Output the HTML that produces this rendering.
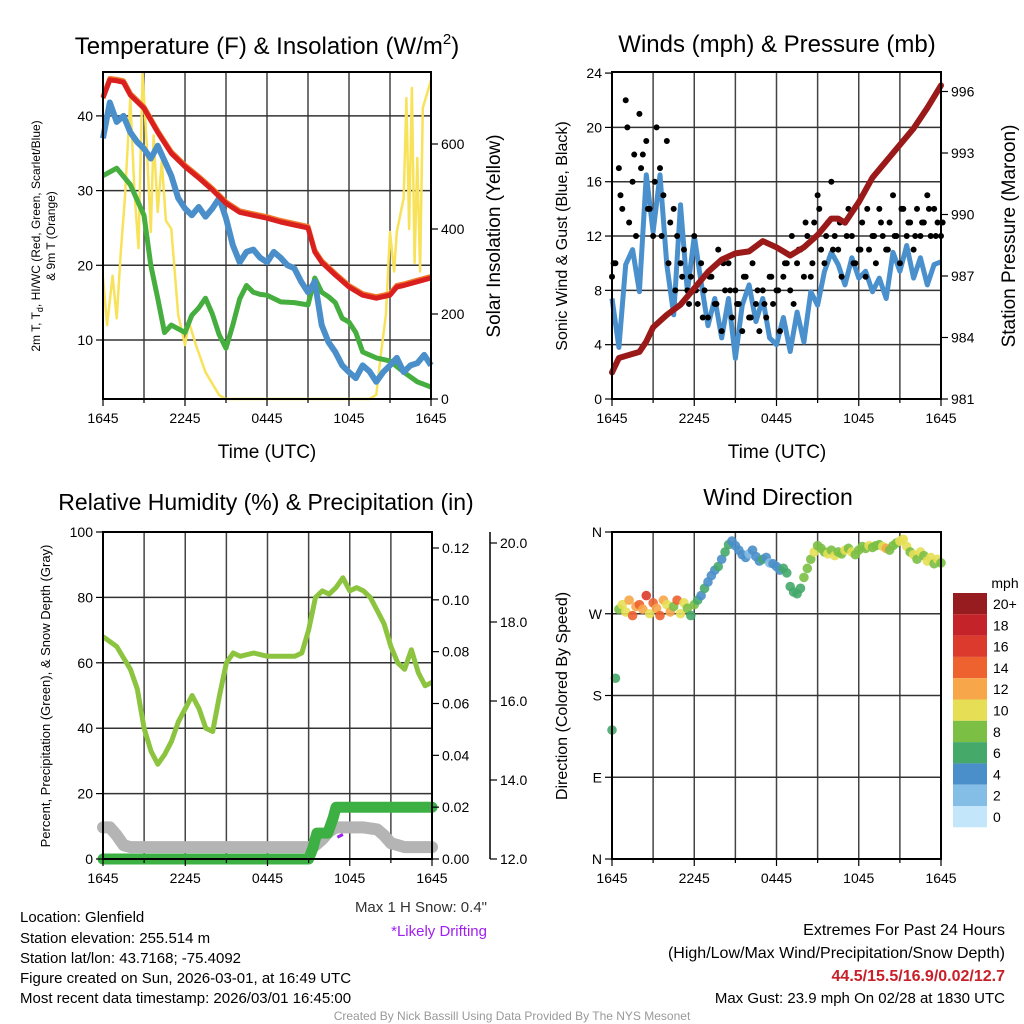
<!DOCTYPE html>
<html><head><meta charset="utf-8"><style>
html,body{margin:0;padding:0;background:#fff}
svg{display:block;font-family:"Liberation Sans",sans-serif}
</style></head><body>
<svg id="c" width="1024" height="1024" viewBox="0 0 1024 1024" xmlns="http://www.w3.org/2000/svg">
<rect width="1024" height="1024" fill="#fff"/>
<g id="g"></g>
<!-- titles -->
<text x="267" y="54" font-size="24" text-anchor="middle">Temperature (F) &amp; Insolation (W/m<tspan font-size="15" dy="-10">2</tspan><tspan dy="10">)</tspan></text>
<text x="777" y="52" font-size="24" text-anchor="middle">Winds (mph) &amp; Pressure (mb)</text>
<text x="266" y="510" font-size="23" text-anchor="middle">Relative Humidity (%) &amp; Precipitation (in)</text>
<text x="778" y="505" font-size="23" text-anchor="middle">Wind Direction</text>
<text x="267" y="458" font-size="19" text-anchor="middle">Time (UTC)</text>
<text x="777" y="458" font-size="19" text-anchor="middle">Time (UTC)</text>
<text transform="translate(40,236) rotate(-90)" font-size="12" text-anchor="middle">2m T, T<tspan font-size="9" dy="3">d</tspan><tspan dy="-3">, HI/WC (Red, Green, Scarlet/Blue)</tspan></text>
<text transform="translate(55,236) rotate(-90)" font-size="12" text-anchor="middle">&amp; 9m T (Orange)</text>
<text transform="translate(500,236) rotate(-90)" font-size="19" text-anchor="middle">Solar Insolation (Yellow)</text>
<text transform="translate(567,236) rotate(-90)" font-size="16" text-anchor="middle">Sonic Wind &amp; Gust (Blue, Black)</text>
<text transform="translate(1015,236) rotate(-90)" font-size="19" text-anchor="middle">Station Pressure (Maroon)</text>
<text transform="translate(50,696) rotate(-90)" font-size="13" text-anchor="middle">Percent, Precipitation (Green), &amp; Snow Depth (Gray)</text>
<text transform="translate(567,696) rotate(-90)" font-size="16" text-anchor="middle">Direction (Colored By Speed)</text>
<text x="1005" y="588" font-size="14" text-anchor="middle">mph</text>
<!-- footer texts -->
<g font-size="15">
<text x="20" y="922">Location: Glenfield</text>
<text x="20" y="943">Station elevation: 255.514 m</text>
<text x="20" y="963">Station lat/lon: 43.7168; -75.4092</text>
<text x="20" y="983">Figure created on Sun, 2026-03-01, at 16:49 UTC</text>
<text x="20" y="1003">Most recent data timestamp: 2026/03/01 16:45:00</text>
</g>
<text x="487" y="912" font-size="15" text-anchor="end" fill="#333">Max 1 H Snow: 0.4"</text>
<text x="487" y="936" font-size="15" text-anchor="end" fill="#a020f0">*Likely Drifting</text>
<g font-size="16" text-anchor="end">
<text x="1005" y="935">Extremes For Past 24 Hours</text>
<text x="1005" y="958">(High/Low/Max Wind/Precipitation/Snow Depth)</text>
<text x="1005" y="981" fill="#c8202a" font-weight="bold">44.5/15.5/16.9/0.02/12.7</text>
<text x="1005" y="1003" font-size="15">Max Gust: 23.9 mph On 02/28 at 1830 UTC</text>
</g>
<text x="512" y="1020" font-size="12" text-anchor="middle" fill="#999">Created By Nick Bassill Using Data Provided By The NYS Mesonet</text>
</svg>
<script>
// ---------- data ----------
const xTickLabels = ["1645","2245","0445","1045","1645"];
const tempTicks = [10,20,30,40];
const solarTicks = [0,200,400,600];
const windTicks = [0,4,8,12,16,20,24];
const presTicks = [981,984,987,990,993,996];
const rhTicks = [0,20,40,60,80,100];
const precipTicks = ["0.00","0.02","0.04","0.06","0.08","0.10","0.12"];
const snowTicks = ["12.0","14.0","16.0","18.0","20.0"];
const dirLabels = ["N","E","S","W","N"];
const cbLabels = ["20+","18","16","14","12","10","8","6","4","2","0"];
const cbColors = ["#961c1f","#c4232a","#dc3a2c","#ee6230","#f7a64a","#e6df55","#7bbf45","#45a96a","#4a8fc9","#84bde5","#c4e6fa"];

const tT = [0,0.5,1,1.5,2,3,4,5,6,7,8,9,10,11,12,13,14,15,15.5,16,17,18,19,20,21,21.5,22,23,24];
const airT = [42.4,44.8,44.7,44.5,42.8,41,37.8,35,33.2,31.7,30.1,28.3,27.1,26.7,26.3,25.8,25.4,25,21.8,20.4,18.7,17.1,16,15.6,16,17.1,17.3,17.8,18.3];
const tB = [0,0.5,1,1.5,2,2.5,3,3.5,4,4.5,5,5.5,6,6.5,7,7.5,8,8.5,9,9.5,10,10.5,11,11.5,12,12.5,13,13.5,14,14.5,15,15.5,16,16.5,17,17.5,18,18.5,19,19.5,20,20.5,21,21.5,22,22.5,23,23.5,24];
const chillT = [37,41.8,39.2,40,37.8,36.5,35.6,34.3,36,34,32,29,27.6,26.7,27.8,26.5,27.6,29,26.3,22.7,20.4,21.8,22.1,21,20.4,21.8,21,20,19.6,17.8,16.4,17.8,12,9.7,8.4,6.6,5.7,4.9,6.6,5.8,4.4,5.7,6.6,7.6,5.7,6.6,6.9,8,6.6];
const tG = [0,1,2,3,3.5,4,4.5,5,5.5,6,6.5,7,7.5,8,8.5,9,9.5,10,10.5,11,11.5,12,13,14,15,15.5,16,16.5,17,17.5,18,18.5,19,19.5,20,21,22,23,24];
const dewT = [32,33,30.8,26.7,20,15.6,11,12,11.5,11,13.3,14.3,15.6,13.5,10.7,8.9,12,15.5,17.3,16.4,16.1,16,15.1,15,14.7,18.3,16.4,15.8,15,12.9,12.4,11,8.4,8,7.6,7.2,5.7,4.4,3.7];
const tS = [0,0.3,0.7,1,1.3,1.6,2,2.3,2.6,2.9,3.2,3.5,3.7,4,4.3,4.6,5,5.5,6,6.3,6.8,7.5,8.5,9,19.5,20,20.3,20.7,21,21.3,21.5,22,22.2,22.4,22.6,22.8,23,23.2,23.4,24];
const solar = [285,174,290,190,346,473,708,490,355,767,600,393,620,440,560,420,400,198,127,180,127,63,9,0,0,10,96,198,393,300,393,473,708,400,732,320,567,300,685,750];

const windStep = 0.5;
const windSpd = [7.4,3.8,9.9,11,7.9,16.5,12.3,16.5,9.9,6.2,14.3,7.9,12,8.6,5.4,7.4,4.5,7.4,3.0,6.9,8.4,5.7,7.4,4.5,4.0,6.0,3.5,6.4,4.2,7.9,6.9,9.4,10.8,9.9,8.4,10.4,8.9,9.4,7.9,8.9,7.4,10.8,9.4,11.3,8.9,10.4,8.4,9.9,10.1];
const gustStep = 0.25;
const gustA = [9,10,17,14,22,13,16,12,21,18,19,14,12,20,17,15,19,13,14,12,10,11,8,9,12,7,10,8,6,9,7,11,5,8,10,6,8,7,5,9,6,10,7,5,8,6,9,7,8,5,9,10,8,7,10,11,9,12,9,13,15,11,10,13,16,12,11,9,13,14,12,10,11,13,9,11,12,10,14,12,11,13,15,12,10,14,12,13,11,14,12,13,15,12,14,13,12];
const gustB = [10,15,20,18,17,14,16,12,10,8,9,7,8,6,9,7,10,8,7,9,6,8,7,9,8,10,12,11,13,10,14,12,11,13,12,10,11,14,12,13,11,12,14,13,12,13,14,12,13];
const tP = [0,0.5,2,2.5,3,4,5,6,7,8,9,10,11,12,13,14,15,16,16.5,17,17.5,18,19,20,21,22,23,24];
const pres = [982.3,983,983.3,983.8,984.5,985.1,985.6,986.4,987.2,987.8,988.1,988.2,988.7,988.4,988,988.4,989,989.8,989.8,989.6,990.1,990.6,991.8,992.6,993.4,994.2,995.2,996.3];

const tRH = [0,1,2,2.5,3,3.5,4,4.5,5,5.5,6,6.5,7,7.5,8,8.5,9,9.5,10,11,12,13,14,14.5,15,15.5,16,16.5,17,17.5,18,18.5,19,19.5,20,20.5,21,21.5,22,22.5,23,23.5,24];
const rh = [68,65,58,52,40,33,29,32,36,42,46,50,46,40,39,50,60,63,62,63,62,62,62,63,70,80,82,81,83,86,82,83,82,80,76,72,65,60,58,64,57,53,54];
const tPr = [0,15,15.3,15.6,16.4,16.8,17,24];
const precip = [0,0,0.004,0.01,0.01,0.016,0.02,0.02];
const tSn = [0,0.5,1,1.5,2,3,15,15.5,16,16.5,17,19,20,20.5,21,22,24];
const snow = [12.8,12.8,12.6,12.35,12.3,12.3,12.3,12.35,12.5,12.7,12.8,12.8,12.75,12.6,12.4,12.3,12.3];

const dirStep = 0.25;
const dirDeg = [142,199,275,280,272,285,268,278,280,275,290,270,282,276,268,285,280,272,278,285,270,282,276,268,280,285,290,298,305,312,318,322,330,338,346,350,345,340,335,332,336,340,333,328,330,332,326,325,322,318,320,315,300,294,292,298,310,320,330,338,345,342,338,336,340,334,338,336,340,342,338,335,340,344,342,345,343,345,346,344,342,340,345,348,350,352,344,338,335,330,338,334,328,332,325,330,326];
const dirSpd = [6,7,9,10,11,12,14,13,15,12,16,11,14,13,15,12,10,12,9,14,11,10,8,7,8,6,5,6,4,5,4,6,5,6,7,4,5,4,5,4,3,4,5,4,6,4,3,4,5,5,6,7,6,7,6,7,8,9,8,10,9,8,9,10,9,10,9,8,10,9,10,9,8,8,9,10,9,8,9,10,12,9,8,9,10,10,11,9,10,9,10,9,10,10,9,10,9];

// ---------- helpers ----------
const NS="http://www.w3.org/2000/svg";
const G=document.getElementById('g');
function el(tag,attrs,parent){const e=document.createElementNS(NS,tag);for(const k in attrs)e.setAttribute(k,attrs[k]);(parent||G).appendChild(e);return e;}
function pts(ts,vs,fx,fy){return ts.map((t,i)=>fx(t).toFixed(1)+","+fy(vs[i]).toFixed(1)).join(" ");}
function txt(x,y,s,anchor,size,parent){const e=el('text',{x:x,y:y,'font-size':size||14,'text-anchor':anchor||'start'},parent);e.textContent=s;return e;}

function panel(px0,px1,py0,py1,name){
  const g=el('g',{});
  
  
  return g;
}
function frame(g,x0,x1,y0,y1,hLines){
  const fx=h=>x0+(x1-x0)*h/24;
  for(let k=1;k<8;k++){const l=el('line',{x1:fx(k*3),x2:fx(k*3),y1:y0,y2:y1,stroke:'#444','stroke-width':1.5},g);
    
    }
  hLines.forEach(y=>{const l=el('line',{x1:x0,x2:x1,y1:y,y2:y,stroke:'#333','stroke-width':1.5},g);
    
    });
}
function border(g,x0,x1,y0,y1){
  const r=el('rect',{x:x0,y:y0,width:x1-x0,height:y1-y0,fill:'none',stroke:'#000','stroke-width':2},g);
  
  
  const fx=h=>x0+(x1-x0)*h/24;
  for(let k=0;k<=8;k++){el('line',{x1:fx(k*3),x2:fx(k*3),y1:y1,y2:y1+(k%2?4:7),stroke:'#000','stroke-width':1.2},g);}
  xTickLabels.forEach((s,i)=>{const t=txt(fx(i*6),y1+24,s,'middle',14,g);
    
    });
}
function yTicks(g,x,vals,fy,labels,side,fmt){
  vals.forEach((v,i)=>{const y=fy(v);
    el('line',{x1:x,x2:x+(side==='l'?-7:7),y1:y,y2:y,stroke:'#000','stroke-width':1.2},g);
    const t=txt(side==='l'?x-10:x+10,y+5,labels?labels[i]:String(v),side==='l'?'end':'start',14,g);
    
    });
}

// ---------- panel 1 ----------
(function(){
  const x0=103,x1=431,y0=72,y1=399;
  const fx=h=>x0+(x1-x0)*h/24, fT=v=>414.7-v*7.47, fS=v=>399-v*0.425;
  const g=panel(x0,x1,y0,y1,'temperature-panel');
  frame(g,x0,x1,y0,y1,tempTicks.map(fT));
  const sol=el('polyline',{points:pts(tS,solar,fx,fS),fill:'none',stroke:'#f8e25a','stroke-width':2.5,'stroke-linejoin':'round'},g);
  
  
  const d=el('polyline',{points:pts(tG,dewT,fx,fT),fill:'none',stroke:'#45ae3f','stroke-width':5,'stroke-linejoin':'round'},g);
  
  
  const b=el('polyline',{points:pts(tB,chillT,fx,fT),fill:'none',stroke:'#4a8fca','stroke-width':6,'stroke-linejoin':'round'},g);
  
  
  const o=el('polyline',{points:pts(tT,airT,fx,v=>fT(v)-1.5),fill:'none',stroke:'#f07a2c','stroke-width':5,'stroke-linejoin':'round'},g);
  
  
  const r=el('polyline',{points:pts(tT,airT,fx,fT),fill:'none',stroke:'#d9201f','stroke-width':5,'stroke-linejoin':'round'},g);
  
  
  border(g,x0,x1,y0,y1);
  yTicks(g,x0,tempTicks,fT,null,'l');
  yTicks(g,x1,solarTicks,fS,null,'r');
})();

// ---------- panel 2 ----------
(function(){
  const x0=612,x1=941,y0=72,y1=399;
  const fx=h=>x0+(x1-x0)*h/24, fW=v=>399-v*13.58, fP=v=>399-(v-981)*20.5;
  const g=panel(x0,x1,y0,y1,'winds-panel');
  frame(g,x0,x1,y0,y1,windTicks.slice(1,-1).map(fW));
  const w=el('polyline',{points:pts(windSpd.map((_,i)=>i*windStep),windSpd,fx,fW),fill:'none',stroke:'#4a90cc','stroke-width':5,'stroke-linejoin':'round'},g);
  
  
  gustA.forEach((v,i)=>{const c=el('circle',{cx:fx(i*gustStep),cy:fW(v),r:3,fill:'#000'},g);
    
    });
  gustB.forEach((v,i)=>{const c=el('circle',{cx:fx(i*windStep+0.12),cy:fW(v),r:3,fill:'#000'},g);
    
    });
  const p=el('polyline',{points:pts(tP,pres,fx,fP),fill:'none',stroke:'#9a1a1a','stroke-width':6,'stroke-linejoin':'round','stroke-linecap':'round'},g);
  
  
  border(g,x0,x1,y0,y1);
  yTicks(g,x0,windTicks,fW,null,'l');
  yTicks(g,x1,presTicks,fP,null,'r');
})();

// ---------- panel 3 ----------
(function(){
  const x0=103,x1=432,y0=532,y1=859;
  const fx=h=>x0+(x1-x0)*h/24, fR=v=>859-v*3.27, fPr=v=>859-v/0.12*311, fSn=v=>859-(v-12)*39.5;
  const g=panel(x0,x1,y0,y1,'humidity-panel');
  frame(g,x0,x1,y0,y1,rhTicks.slice(1,-1).map(fR));
  const s=el('polyline',{points:pts(tSn,snow,fx,fSn),fill:'none',stroke:'#b4b4b4','stroke-width':12,'stroke-linejoin':'round','stroke-linecap':'round'},g);
  
  
  const pr=el('polyline',{points:pts(tPr,precip,fx,fPr),fill:'none',stroke:'#3db043','stroke-width':11,'stroke-linejoin':'round','stroke-linecap':'round'},g);
  
  
  const dr=el('polyline',{points:fx(17.1)+","+fSn(12.55)+" "+fx(17.5)+","+fSn(12.62),fill:'none',stroke:'#a020f0','stroke-width':3},g);
  
  
  const r=el('polyline',{points:pts(tRH,rh,fx,fR),fill:'none',stroke:'#8cc43f','stroke-width':5,'stroke-linejoin':'round'},g);
  
  
  border(g,x0,x1,y0,y1);
  yTicks(g,x0,rhTicks,fR,null,'l');
  yTicks(g,x1,precipTicks.map(Number),fPr,precipTicks,'r');
  const ax=el('line',{x1:490,x2:490,y1:532,y2:859,stroke:'#000','stroke-width':1.5},g);
  
  
  yTicks(g,490,snowTicks.map(Number),fSn,snowTicks,'r');
})();

// ---------- panel 4 ----------
(function(){
  const x0=612,x1=941,y0=532,y1=859;
  const fx=h=>x0+(x1-x0)*h/24, fD=v=>859-v*327/360;
  const g=panel(x0,x1,y0,y1,'direction-panel');
  frame(g,x0,x1,y0,y1,[90,180,270].map(fD));
  function col(s){let i=Math.min(10,Math.floor(s/2));return cbColors[10-i];}
  dirDeg.forEach((v,i)=>{const c=el('circle',{cx:fx(i*dirStep),cy:fD(v),r:4.8,fill:col(dirSpd[i]),'fill-opacity':0.9},g);
    
    });
  border(g,x0,x1,y0,y1);
  yTicks(g,x0,[0,90,180,270,360],fD,dirLabels,'l');
  cbColors.forEach((c,i)=>{const r=el('rect',{x:953,y:593+i*21.3,width:34,height:21.3,fill:c},g);
    
    
    const t=txt(993,593+i*21.3+16,cbLabels[i],'start',14,g);
    
    });
})();
</script>
</body></html>
